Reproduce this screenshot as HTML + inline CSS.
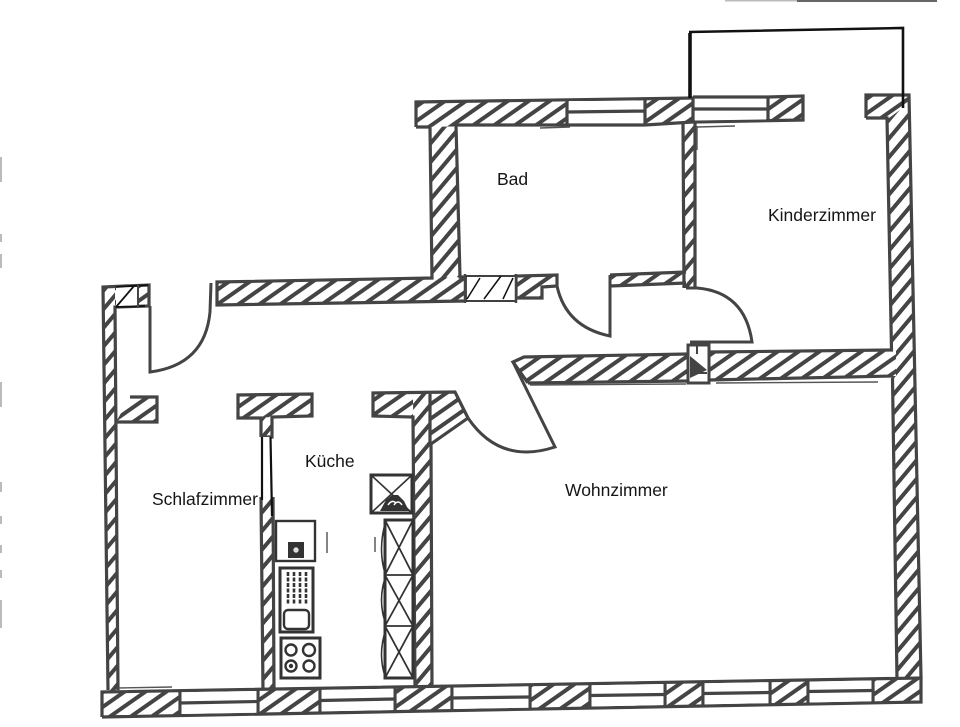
<!DOCTYPE html>
<html><head><meta charset="utf-8"><style>
html,body{margin:0;padding:0;background:#fff;width:960px;height:727px;overflow:hidden}
svg{display:block}
text{font-family:"Liberation Sans",sans-serif;font-size:17.5px;fill:#151515}
</style></head><body>
<svg width="960" height="727" viewBox="0 0 960 727" xmlns="http://www.w3.org/2000/svg">
<defs>
<pattern id="h" width="12" height="12" patternUnits="userSpaceOnUse" patternTransform="rotate(-35)">
<rect width="12" height="12" fill="#fff"/><rect y="0" width="12" height="4" fill="#444"/></pattern>
<pattern id="v" width="12" height="12" patternUnits="userSpaceOnUse" patternTransform="rotate(-50)">
<rect width="12" height="12" fill="#fff"/><rect y="0" width="12" height="4" fill="#444"/></pattern>
</defs>
<rect width="960" height="727" fill="#fff"/>
<g fill="#bbb"><rect x="0" y="157" width="2" height="25"/><rect x="0" y="234" width="2" height="8"/><rect x="0" y="254" width="2" height="14"/><rect x="0" y="382" width="2" height="25"/><rect x="0" y="482" width="2" height="10"/><rect x="0" y="516" width="2" height="8"/><rect x="0" y="545" width="2" height="8"/><rect x="0" y="570" width="2" height="8"/><rect x="0" y="600" width="2" height="28"/><rect x="725" y="0" width="72" height="1.5"/><rect x="797" y="0" width="140" height="2" fill="#666"/></g>

<!-- hatch fills without stroke -->
<g fill="url(#v)">
<polygon points="103,287 115,287 118,692 108,692"/>
<polygon points="887,118 909,97 921,680 897,680"/>
<polygon points="430,125 456,125 460,282 432,282"/>
<polygon points="683,122 695,122 695,288 684,288"/>
<polygon points="413,393 430,393 432,688 415,688"/>
<polygon points="261,497 272,497 274,690 263,690"/>
<rect x="261" y="416" width="11" height="21"/>
</g>
<g fill="url(#h)">
<polygon points="115,286 149,285 149,306 115,307"/>
<polygon points="217,282 465,277 465,301 217,305"/>
<polygon points="516,276 557,275 557,286 542,287 542,298 516,299"/>
<polygon points="610,275 686,272 686,283 610,286"/>
<polygon points="513,362 524,357 688,354 688,381 528,383"/>
<polygon points="709,352 896,350 896,376 709,380"/>
<polygon points="116,422 130,397 157,397 157,422"/>
<polygon points="238,395 312,394 312,416 238,418"/>
<polygon points="373,393 413,392 413,417 373,416"/>
<polygon points="430,393 455,392 468,418 431,444"/>
<polygon points="416,102 567,99 567,125 416,127"/>
<polygon points="645,99 693,98 693,122 645,125"/>
<polygon points="768,97 803,96 803,120 768,121"/>
<polygon points="866,95 908,95 908,104 889,118 866,118"/>
<polygon points="102,692 180,690.7 180,715.6 102,717"/>
<polygon points="258,689.3 320,688.3 320,713 258,714.1"/>
<polygon points="395,687 452,686 452,710.6 395,711.6"/>
<polygon points="530,684.7 590,683.7 590,708.1 530,709.2"/>
<polygon points="665,682.4 703,681.7 703,706 665,706.7"/>
<polygon points="770,680.6 808,680 808,704.1 770,704.8"/>
<polygon points="873,678.8 921,678 921,702 873,702.9"/>
</g>

<!-- wall outlines -->
<g stroke="#444" stroke-width="3.2" fill="none" stroke-linejoin="miter">
<path d="M118 690L115 307 149 306V285L103 287 108 690"/>
<path d="M416 127V102L693 98M416 127H430L432 278 217 282V305L465 301M456 125L460 277H465M456 125H645"/>
<path d="M693 122L645 125"/>
<path d="M683 122L684 288M695 122V288"/>
<path d="M866 118V95H909L921 678M866 118H887L891.500 350M892.500 378L897 680"/>
<path d="M516 299V276L557 275V286L542 287V298H516"/>
<path d="M610 286L686 283M610 275L686 272"/>
<path d="M528 383L513 362 524 357 688 354M528 383L688 381"/>
<path d="M709 352L893 350M709 380L893 376"/>
<path d="M130 397H157V422H116"/>
<path d="M261 437V418H238V395L312 394V416L272 417V437H261"/>
<path d="M415 688L413 417 373 416V393L455 392 468 418 431 444 432 687M430 393V445"/>
<path d="M261 497L263 690M273 497L274 690"/>
<path d="M102 717V692L921 678V702L102 717"/>
<path d="M180 690.700V715.600M258 689.300V714.100M320 688.300V713M395 687V711.600M452 686V710.600M530 684.700V709.200M590 683.700V708.100M665 682.400V706.700M703 681.700V706M770 680.600V704.800M808 680V704.100M873 678.800V702.900"/>
<path d="M768 97L803 96V120L693 122M768 97H693"/>
</g>

<!-- windows -->
<g fill="#fff">
<polygon points="181.500,692.300 256.500,691 256.500,712.700 181.500,714"/>
<polygon points="321.500,690 393.500,688.700 393.500,710 321.500,711.400"/>
<polygon points="453.500,687.700 528.500,686.400 528.500,707.700 453.500,709"/>
<polygon points="591.500,685.300 663.500,684 663.500,705 591.500,706.500"/>
<polygon points="704.500,683.300 768.500,682.200 768.500,703.200 704.500,704.400"/>
<polygon points="809.500,681.600 871.500,680.500 871.500,701.300 809.500,702.500"/>
<polygon points="569,101 643,101 643,123 569,123"/>
<polygon points="695,100 766,99 766,119.500 695,120.500"/>
</g>
<g stroke="#444" stroke-width="3.200" fill="none">
<path d="M180 703L258 701.500M320 700.500L395 699M452 698L530 697M590 695.500L665 694.500M703 693.500L770 692.500M808 691.500L873 690.500"/>
<path d="M567 99V125M645 99V125M567 112L645 111M693 98V122M768 97V121M693 109H768"/>
</g>

<!-- column at mid wall -->
<rect x="688" y="345" width="21" height="38" fill="#fff" stroke="#444" stroke-width="3"/>
<polygon points="690,356 707,370 690,378" fill="#444"/>
<path d="M690 373H707M697 345V354" stroke="#444" stroke-width="2"/>

<!-- doors -->
<g fill="none" stroke="#444" stroke-width="3">
<path d="M150 306V372Q205 365 210 312L211 283"/>
<path d="M557 286Q566 327 610 336V275"/>
<path d="M686 288H697Q745 292 752 342H690"/>
<path d="M513 362L555 447Q500 465 468 418"/>
</g>

<!-- thin interior lines -->
<g stroke="#555" stroke-width="1.4" fill="none">
<line x1="716" y1="383" x2="878" y2="382"/>
<line x1="530" y1="385" x2="686" y2="384"/>
<line x1="697" y1="126" x2="697" y2="150"/>
<line x1="697" y1="127" x2="735" y2="126"/>
<line x1="118" y1="688" x2="172" y2="687"/>
<line x1="540" y1="128" x2="570" y2="127"/>
</g>

<!-- kitchen -->
<g fill="none" stroke="#333" stroke-width="2.400">
<rect x="276" y="521" width="39" height="40" fill="#fff"/>
<rect x="280" y="568" width="33" height="64" stroke-width="3"/>
<rect x="284" y="610" width="25" height="19" rx="4"/>
<rect x="281" y="638" width="39" height="40" stroke-width="3"/>
<circle cx="291" cy="650" r="5.500"/><circle cx="309" cy="650" r="6"/><circle cx="291" cy="666" r="5.500"/><circle cx="309" cy="666" r="5.500"/>
<rect x="371" y="475" width="41" height="38" stroke-width="3"/>
<path d="M371 475L412 513M412 475L371 513" stroke-width="1.600"/>
<rect x="385" y="520" width="28" height="158" stroke-width="3"/>
<path d="M385 575H413M385 626H413M385 520L413 575M413 520L385 575M385 575L413 626M413 575L385 626M385 626L413 678M413 626L385 678" stroke-width="1.800"/>
<path d="M385 524Q378 550 385 573M385 578Q378 600 385 622M385 632Q378 655 385 676" stroke-width="1.600"/>
<path d="M327 532V553M375 537V552" stroke="#666" stroke-width="1.600"/>
</g>
<path d="M380 511L386 500 392 495 398 495 404 501 409 511Z" fill="#333"/>
<path d="M388 505Q392 499 396 503M394 505Q398 499 402 505" stroke="#fff" stroke-width="1.500" fill="none"/>
<rect x="288" y="542" width="16" height="16" fill="#333"/>
<circle cx="296" cy="550" r="3.200" fill="#ddd" stroke="#333"/>
<circle cx="291" cy="666" r="2.200" fill="#333"/>
<g fill="none" stroke="#333" stroke-width="2.600" stroke-dasharray="4 1.500">
<path d="M288 572V604M294 572V604M300 572V604M306 572V604"/>
</g>

<!-- bath window -->
<g stroke="#111" fill="none">
<rect x="466" y="276" width="50" height="25" fill="#fff" stroke-width="1.600"/>
<path d="M467 299L480 278M484 299L501 276M503 299L513 278" stroke-width="1.500"/>
<line x1="465" y1="274" x2="465" y2="303" stroke="#444" stroke-width="2.500"/>
<line x1="516" y1="274" x2="516" y2="303" stroke="#444" stroke-width="2.500"/>
</g>

<!-- entry Z box -->
<rect x="116" y="287" width="22" height="19" fill="#fff"/>
<path d="M116 287L148 285M116 307L134 286M116 307L145 306" stroke="#111" stroke-width="1.800" fill="none"/>
<line x1="138" y1="285" x2="138" y2="308" stroke="#444" stroke-width="2"/>

<!-- partition black lines -->
<rect x="262" y="437" width="9" height="60" fill="#fff"/>
<path d="M262 437V500M270.500 437L272 516" stroke="#111" stroke-width="2.200" fill="none"/>

<!-- balcony -->
<path d="M690 98V33" stroke="#111" stroke-width="3.600" fill="none"/>
<path d="M689 32L903 28V108" stroke="#111" stroke-width="2.600" fill="none"/>

<text x="497" y="185">Bad</text>
<text x="768" y="221">Kinderzimmer</text>
<text x="305" y="467">Küche</text>
<text x="152" y="505">Schlafzimmer</text>
<text x="565" y="496">Wohnzimmer</text>
</svg>
</body></html>
